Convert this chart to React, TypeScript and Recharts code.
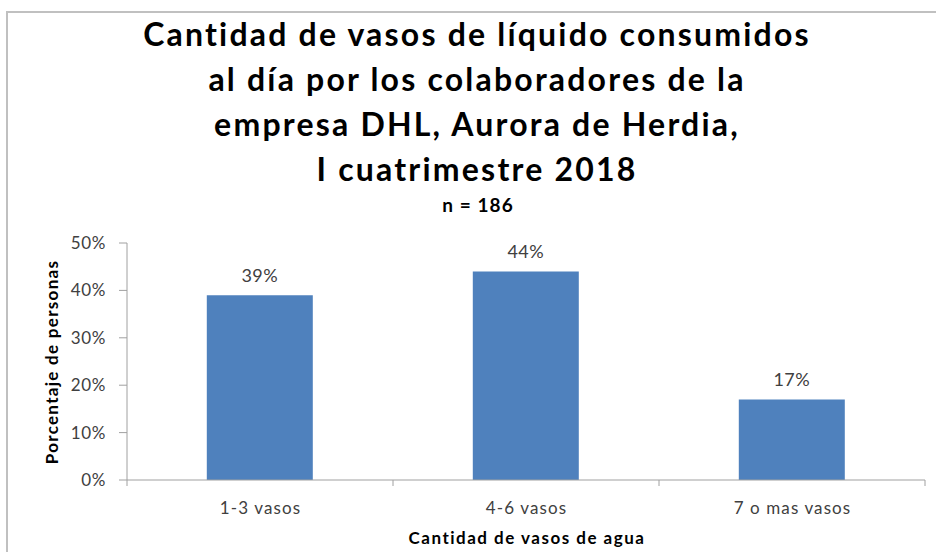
import React from "react";
import { BarChart, Bar, XAxis, YAxis, LabelList } from "recharts";

const categories = ["1-3 vasos", "4-6 vasos", "7 o mas vasos"];
const values = [39, 44, 17];
const yTicks = [0, 10, 20, 30, 40, 50];
const titleLines = [
  "Cantidad de vasos de líquido consumidos",
  "al día por los colaboradores de la",
  "empresa DHL, Aurora de Herdia,",
  "I cuatrimestre 2018",
];
const subtitle = "n = 186";
const yTitle = "Porcentaje de personas";
const xTitle = "Cantidad de vasos de agua";

const data = categories.map((c, i) => ({ name: c, value: values[i] }));

const FONT = "Lato, Carlito, Calibri, sans-serif";
const W = 936;
const H = 552;
const PLOT_LEFT = 127;
const PLOT_RIGHT_MARGIN = 11;
const BAND = (W - PLOT_LEFT - PLOT_RIGHT_MARGIN) / categories.length;
const AXIS = "#a0a0a0";
const TXT = "#404040";

const XTick = (props: any) => {
  const { x, y, payload, index } = props;
  const last = index === categories.length - 1;
  return (
    <g>
      <line x1={x - BAND / 2} y1={y} x2={x - BAND / 2} y2={y + 6} stroke={AXIS} />
      {last && <line x1={x + BAND / 2} y1={y} x2={x + BAND / 2} y2={y + 6} stroke={AXIS} />}
      <text
        x={x + 0.5}
        y={y + 34}
        textAnchor="middle"
        fontSize={17}
        letterSpacing={1.1}
        fill={TXT}
        fontFamily={FONT}
      >
        {payload.value}
      </text>
    </g>
  );
};

export default function App() {
  return (
    <div style={{ position: "absolute", left: 0, top: 0, width: W, height: H, overflow: "hidden", background: "#fff" }}>
      <div
        style={{
          position: "absolute",
          left: 6,
          top: 11,
          width: 1200,
          height: 1200,
          border: "2px solid #c0c0c0",
          boxSizing: "border-box",
        }}
      />
      <div style={{ position: "absolute", left: 0, top: 0 }}>
        <BarChart
          width={W}
          height={H}
          data={data}
          margin={{ top: 243, right: PLOT_RIGHT_MARGIN, bottom: 0, left: 0 }}
          barCategoryGap="30%"
        >
          <XAxis
            dataKey="name"
            height={72}
            axisLine={{ stroke: AXIS }}
            tickLine={false}
            tickSize={0}
            tickMargin={0}
            tick={<XTick />}
            interval={0}
          />
          <YAxis
            width={PLOT_LEFT}
            domain={[0, 50]}
            ticks={yTicks}
            interval={0}
            tickFormatter={(v: number) => `${v}%`}
            axisLine={{ stroke: AXIS }}
            tickLine={{ stroke: AXIS }}
            tickSize={8}
            tickMargin={13}
            tick={{ fontSize: 17, fill: TXT, fontFamily: FONT, letterSpacing: 0.6 }}
          />
          <Bar dataKey="value" fill="#4f81bd" isAnimationActive={false}>
            <LabelList
              dataKey="value"
              position="top"
              offset={13}
              formatter={(v: any) => `${v}%`}
              style={{ fontSize: 18, fill: TXT, fontFamily: FONT, letterSpacing: 0.4 }}
            />
          </Bar>
        </BarChart>
      </div>
      <svg width={W} height={H} style={{ position: "absolute", left: 0, top: 0, pointerEvents: "none" }}>
        {titleLines.map((t, i) => (
          <text
            key={i}
            x={477}
            y={46 + i * 45}
            textAnchor="middle"
            fontSize={32}
            letterSpacing={2.2}
            fontWeight="bold"
            fontFamily={FONT}
            fill="#000"
          >
            {t}
          </text>
        ))}
        <text
          x={478}
          y={212}
          textAnchor="middle"
          fontSize={19}
          letterSpacing={1.1}
          fontWeight="bold"
          fontFamily={FONT}
          fill="#000"
        >
          {subtitle}
        </text>
        <text
          x={0}
          y={0}
          transform="translate(51,362) rotate(-90)"
          textAnchor="middle"
          dominantBaseline="central"
          fontSize={17}
          letterSpacing={1.3}
          fontWeight="bold"
          fontFamily={FONT}
          fill="#000"
        >
          {yTitle}
        </text>
        <text
          x={527}
          y={544}
          textAnchor="middle"
          fontSize={17}
          letterSpacing={1.5}
          fontWeight="bold"
          fontFamily={FONT}
          fill="#000"
        >
          {xTitle}
        </text>
      </svg>
    </div>
  );
}
